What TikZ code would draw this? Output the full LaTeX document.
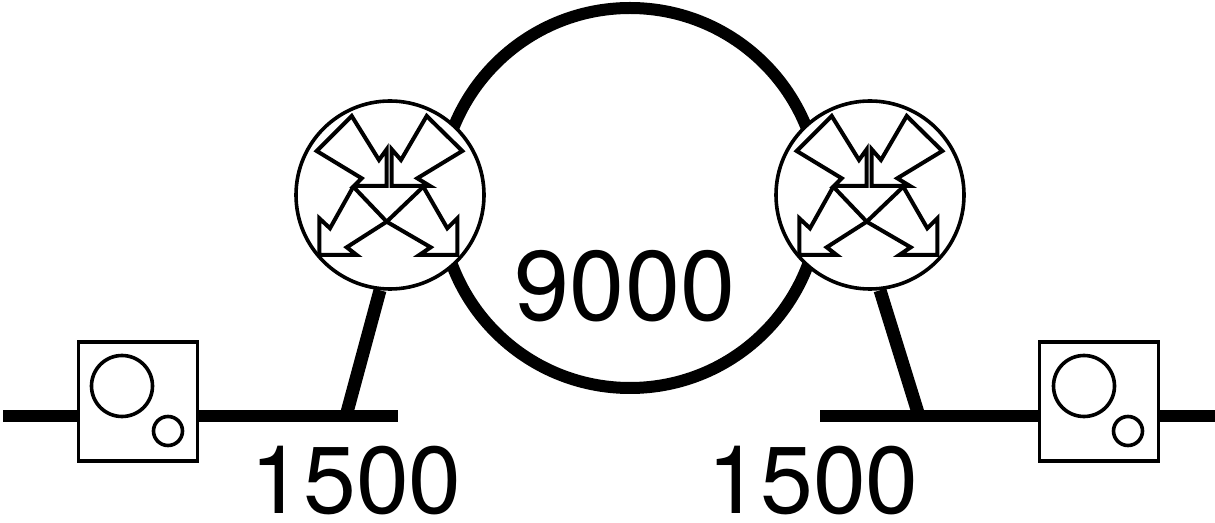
\documentclass[tikz,border=0pt]{standalone}
\usepackage{fontspec}
\setmainfont{TeX Gyre Heros}
\usetikzlibrary{calc, %for relative coord calculations
                positioning}

\begin{document}
\begin{tikzpicture}[
                    x=0.5pt, y=-0.5pt,
                    ring/.style={draw, circle, line width=6pt, minimum size=190pt, inner sep=0},
                    link/.style={line width=6pt},
                    tap/.style={line width=6.5pt},
                    router/.style={draw, circle, line width=1.8pt, fill=white, minimum size=94pt, inner sep=0},
                    hostbox/.style={draw, rectangle, line width=1.8pt, fill=white, minimum size=59.5pt, inner sep=0},
                    bigdisc/.style={draw, circle, line width=1.8pt, minimum size=30.5pt, inner sep=0},
                    smalldisc/.style={draw, circle, line width=1.8pt, minimum size=14.5pt, inner sep=0},
                    mtu/.style={font=\fontsize{49.5}{50}\selectfont, inner sep=0},
                    mtulan/.style={font=\fontsize{47.5}{48}\selectfont, inner sep=0},
                    arrowline/.style={line width=2pt},
                    routerarrows/.pic={
                        % arrows coming in from above
                        \draw[arrowline] (-3.3,-9) -- (-3.3,-45.7) -- (-11,-35) -- (-38.3,-79) -- (-73.3,-44)
                            -- (-28.3,-16.7) -- (-36,-9) -- cycle;
                        \draw[arrowline] (1.7,-9) -- (1.7,-45.7) -- (11,-35) -- (36.7,-79) -- (72.3,-44)
                            -- (27.3,-16.7) -- (40,-9) -- cycle;
                        % arrows going out below
                        \draw[arrowline] (-36.7,-8.3) -- (-60,33.3) -- (-70.7,23.3) -- (-70.7,60) -- (-33.3,60)
                            -- (-43.3,52.3) -- (-3.3,26.7) -- (33.3,-8.3);
                        \draw[arrowline] (33.3,-8.3) -- (57.3,33.3) -- (67.3,23.3) -- (67.3,60) -- (29.3,60)
                            -- (40.7,52.3) -- (-3.3,26.7) -- (-36.7,-8.3);
                    }
                    ]
    \useasboundingbox (0,0) rectangle (1215,523);

    % core ring
    \node[ring] at (630,198) (coreRing){};

    % lan coordinates
    \coordinate (lanL0) at (3,416);
    \coordinate (lanL1) at (397.5,416);
    \coordinate (tapL) at (346,416);
    \coordinate (lanR0) at (820,416);
    \coordinate (lanR1) at (1215,416);
    \coordinate (tapR) at (919,416);

    % lan lines
    \draw[link] (lanL0) -- (lanL1);
    \draw[link] (lanR0) -- (lanR1);

    % routers
    \node[router] at (390,195) (routerL){};
    \node[router] at (870,195) (routerR){};
    \pic at (routerL) {routerarrows};
    \pic at (routerR) {routerarrows};

    % router to lan
    \draw[tap] (routerL.264) -- (tapL);
    \draw[tap] (routerR.276) -- (tapR);

    % hosts
    \node[hostbox] at (138,401.5) (hostL){};
    \node[bigdisc] at (122,386) (hostLbig){};
    \node[smalldisc] at (168,431) (hostLsmall){};
    \node[hostbox] at (1099,401.5) (hostR){};
    \node[bigdisc] at (1084,386) (hostRbig){};
    \node[smalldisc] at (1128,431) (hostRsmall){};

    % mtu labels
    \node[mtu] at (625,286) (mtuCore){9000};
    \node[mtulan] at (356,481) (mtuL){1500};
    \node[mtulan] at (813,481) (mtuR){1500};
\end{tikzpicture}
\end{document}
